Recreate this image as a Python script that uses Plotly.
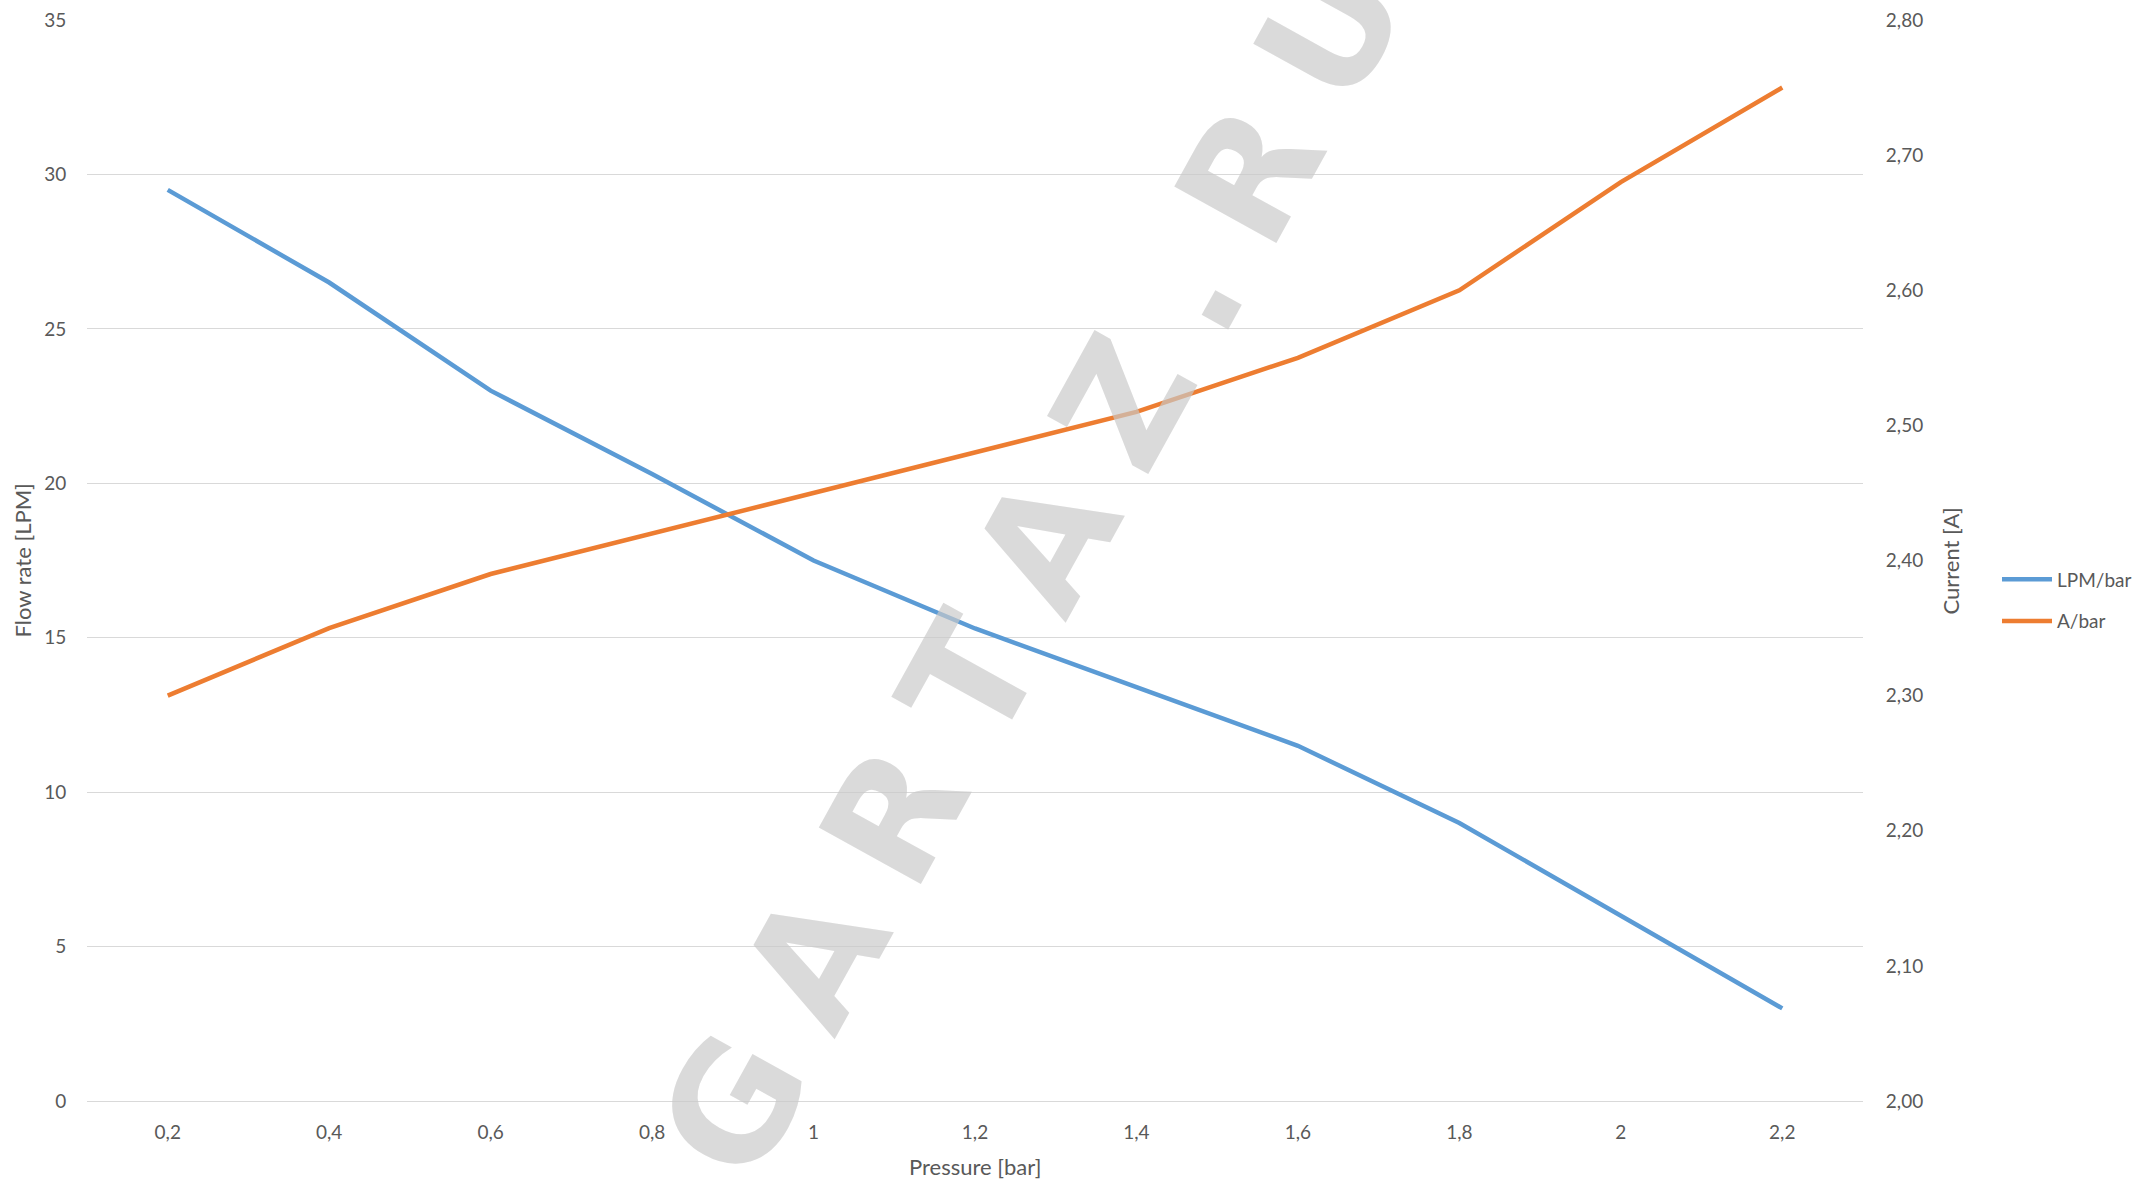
import plotly.graph_objects as go

# ---- data ----
pressure_labels = ["0,2", "0,4", "0,6", "0,8", "1", "1,2", "1,4", "1,6", "1,8", "2", "2,2"]
flow_lpm = [29.5, 26.5, 23.0, 20.3, 17.5, 15.3, 13.4, 11.5, 9.0, 6.0, 3.0]
current_a = [2.30, 2.35, 2.39, 2.42, 2.45, 2.48, 2.51, 2.55, 2.60, 2.68, 2.75]
series_names = ["LPM/bar", "A/bar"]

BLUE = "#5B9BD5"
ORANGE = "#ED7D31"
GRID = "#D9D9D9"
TXT = "#595959"
FONT = "Lato, 'Open Sans', sans-serif"

L, R, T, B = 87, 1863, 20, 1101
W, H = 2139, 1179
PW, PH = R - L, B - T

fig = go.Figure()
fig.add_trace(go.Scatter(x=pressure_labels, y=flow_lpm, name=series_names[0], mode="lines",
                         line=dict(color=BLUE, width=4.5), legendgroup="a"))
fig.add_trace(go.Scatter(x=pressure_labels, y=current_a, name=series_names[1], mode="lines",
                         line=dict(color=ORANGE, width=4.5), yaxis="y2", legendgroup="b"))

fig.update_layout(
    width=W, height=H,
    margin=dict(l=L, r=W - R, t=T, b=H - B, autoexpand=False),
    paper_bgcolor="white", plot_bgcolor="white",
    separators=", ",
    font=dict(family=FONT, size=19, color=TXT),
    xaxis=dict(type="category", range=[-0.5, len(pressure_labels) - 0.5], showgrid=False,
               showline=True, linecolor=GRID, linewidth=1,
               ticks="outside", ticklen=14, tickcolor="rgba(0,0,0,0)", zeroline=False,
               tickfont=dict(size=19, color=TXT)),
    yaxis=dict(range=[0, 35], dtick=5, showgrid=True, gridcolor=GRID, gridwidth=1, zeroline=False,
               ticks="outside", ticklen=16, tickcolor="rgba(0,0,0,0)", showline=False,
               tickfont=dict(size=19, color=TXT)),
    yaxis2=dict(range=[2.0, 2.8], dtick=0.1, tickformat=".2f", overlaying="y", side="right",
                showgrid=False, zeroline=False, ticks="outside", ticklen=18,
                tickcolor="rgba(0,0,0,0)", tickfont=dict(size=19, color=TXT)),
    legend=dict(x=(1997 - L) / PW, xanchor="left", y=0.463, yanchor="middle",
                font=dict(size=19, color=TXT),
                bgcolor="rgba(0,0,0,0)", itemwidth=50, traceorder="grouped", tracegroupgap=14),
    showlegend=True,
)

annotations = [
    dict(text="Pressure [bar]", xref="paper", yref="paper", x=0.5, y=(B - 1166) / PH,
         xanchor="center", yanchor="middle", showarrow=False,
         font=dict(size=22, color=TXT, family=FONT)),
    dict(text="Flow rate [LPM]", xref="paper", yref="paper", x=(22 - L) / PW, y=0.5,
         xanchor="center", yanchor="middle", textangle=-90, showarrow=False,
         font=dict(size=22, color=TXT, family=FONT)),
    dict(text="Current [A]", xref="paper", yref="paper", x=(1950 - L) / PW, y=0.5,
         xanchor="center", yanchor="middle", textangle=-90, showarrow=False,
         font=dict(size=22, color=TXT, family=FONT)),
    # watermark
    dict(text="<b>G\u2005A\u2005R\u2005T\u2005A\u2005Z\u2005.\u2005R\u2005U</b>", xref="paper",
         yref="paper", x=(1032 - L) / PW, y=(B - 568) / PH, xanchor="center", yanchor="middle",
         textangle=-61, showarrow=False,
         font=dict(size=160, color="rgba(200,200,200,0.68)", family="DejaVu Sans")),
]
fig.update_layout(annotations=annotations)

fig.write_html("out.html", config={"displayModeBar": False},
               post_script="document.body.style.margin='0';")
